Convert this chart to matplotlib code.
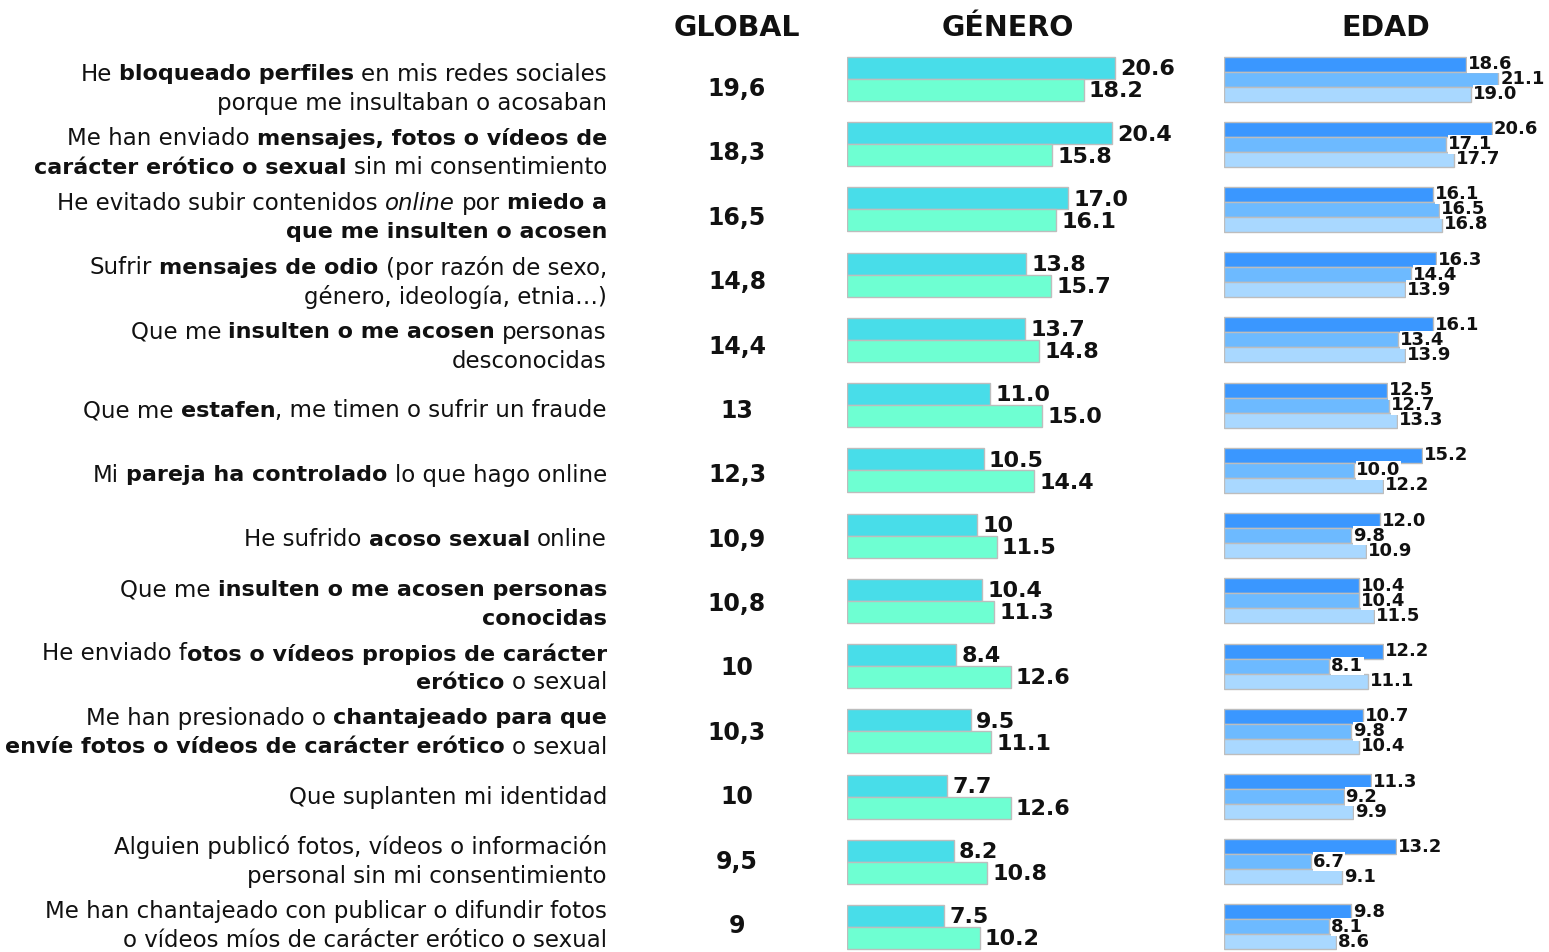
import numpy as np
import matplotlib.pyplot as plt

plt.rcParams['font.family'] = ['DejaVu Sans']

# data
global_vals = ['19,6', '18,3', '16,5', '14,8', '14,4', '13', '12,3',
               '10,9', '10,8', '10', '10,3', '10', '9,5', '9']

gen_a = [20.6, 20.4, 17.0, 13.8, 13.7, 11.0, 10.5, 10.0, 10.4, 8.4, 9.5, 7.7, 8.2, 7.5]
gen_a_lbl = ['20.6', '20.4', '17.0', '13.8', '13.7', '11.0', '10.5', '10', '10.4',
             '8.4', '9.5', '7.7', '8.2', '7.5']
gen_b = [18.2, 15.8, 16.1, 15.7, 14.8, 15.0, 14.4, 11.5, 11.3, 12.6, 11.1, 12.6, 10.8, 10.2]

age_1 = [18.6, 20.6, 16.1, 16.3, 16.1, 12.5, 15.2, 12.0, 10.4, 12.2, 10.7, 11.3, 13.2, 9.8]
age_2 = [21.1, 17.1, 16.5, 14.4, 13.4, 12.7, 10.0, 9.8, 10.4, 8.1, 9.8, 9.2, 6.7, 8.1]
age_3 = [19.0, 17.7, 16.8, 13.9, 13.9, 13.3, 12.2, 10.9, 11.5, 11.1, 10.4, 9.9, 9.1, 8.6]

# row labels: lines of (text, style) with n=normal, b=bold, i=italic
labels = [
    [[('He ', 'n'), ('bloqueado perfiles', 'b'), (' en mis redes sociales', 'n')],
     [('porque me insultaban o acosaban', 'n')]],
    [[('Me han enviado ', 'n'), ('mensajes, fotos o vídeos de', 'b')],
     [('carácter erótico o sexual', 'b'), (' sin mi consentimiento', 'n')]],
    [[('He evitado subir contenidos ', 'n'), ('online', 'i'), (' por ', 'n'), ('miedo a', 'b')],
     [('que me insulten o acosen', 'b')]],
    [[('Sufrir ', 'n'), ('mensajes de odio', 'b'), (' (por razón de sexo,', 'n')],
     [('género, ideología, etnia…)', 'n')]],
    [[('Que me ', 'n'), ('insulten o me acosen', 'b'), (' personas', 'n')],
     [('desconocidas', 'n')]],
    [[('Que me ', 'n'), ('estafen', 'b'), (', me timen o sufrir un fraude', 'n')]],
    [[('Mi ', 'n'), ('pareja ha controlado', 'b'), (' lo que hago online', 'n')]],
    [[('He sufrido ', 'n'), ('acoso sexual', 'b'), (' online', 'n')]],
    [[('Que me ', 'n'), ('insulten o me acosen personas', 'b')],
     [('conocidas', 'b')]],
    [[('He enviado f', 'n'), ('otos o vídeos propios de carácter', 'b')],
     [('erótico', 'b'), (' o sexual', 'n')]],
    [[('Me han presionado o ', 'n'), ('chantajeado para que', 'b')],
     [('envíe fotos o vídeos de carácter erótico', 'b'), (' o sexual', 'n')]],
    [[('Que suplanten mi identidad', 'n')]],
    [[('Alguien publicó fotos, vídeos o información', 'n')],
     [('personal sin mi consentimiento', 'n')]],
    [[('Me han chantajeado con publicar o difundir fotos', 'n')],
     [('o vídeos míos de carácter erótico o sexual', 'n')]],
]

headers = ['GLOBAL', 'GÉNERO', 'EDAD']

c_gen = ['#48DDE9', '#6EFFD2']
c_age = ['#3A97FF', '#6DBAFF', '#A9D8FF']
edge = '#BDBDBD'

W, H = 1549, 952
fig = plt.figure(figsize=(W / 100, H / 100), dpi=100)

n = len(global_vals)
rows = np.arange(n)
# vertical mapping: row 0 centre at 79 px, spacing 65.23 px
pitch = 65.23
y_top = -79 / pitch
y_bot = (H - 79) / pitch
scale = 13.0  # px per unit

ax_g = fig.add_axes([847 / W, 0, (1215 - 847) / W, 1])
ax_g.set_xlim(0, (1215 - 847) / scale)
ax_g.set_ylim(y_bot, y_top)
hg = 22 / pitch
ax_g.barh(rows - hg / 2, gen_a, height=hg, color=c_gen[0], edgecolor=edge, linewidth=1)
ax_g.barh(rows + hg / 2, gen_b, height=hg, color=c_gen[1], edgecolor=edge, linewidth=1)
for i in range(n):
    ax_g.text(gen_a[i] + 0.4, i - hg / 2 + 0.02, gen_a_lbl[i], fontsize=16, fontweight='bold',
              va='center', ha='left', color='#111111')
    ax_g.text(gen_b[i] + 0.4, i + hg / 2 + 0.02, f'{gen_b[i]:.1f}', fontsize=16, fontweight='bold',
              va='center', ha='left', color='#111111')
ax_g.axis('off')

ax_a = fig.add_axes([1224 / W, 0, (W - 1224) / W, 1])
ax_a.set_xlim(0, (W - 1224) / scale)
ax_a.set_ylim(y_bot, y_top)
ha_ = 15 / pitch
for k, (vals, col) in enumerate(zip([age_1, age_2, age_3], c_age)):
    off = (k - 1) * ha_
    ax_a.barh(rows + off, vals, height=ha_, color=col, edgecolor=edge, linewidth=1)
for k, vals in enumerate([age_1, age_2, age_3]):
    off = (k - 1) * ha_
    for i in range(n):
        ax_a.text(vals[i] + 0.15, i + off, f'{vals[i]:.1f}', fontsize=13, fontweight='bold',
                  va='center', ha='left', color='#111111', zorder=5,
                  bbox=dict(facecolor='white', edgecolor='none', pad=0.2))
ax_a.axis('off')

# text layer in pixel coordinates
ax_t = fig.add_axes([0, 0, 1, 1], zorder=-1)
ax_t.set_xlim(0, W)
ax_t.set_ylim(H, 0)
ax_t.axis('off')

hx = [737, 1008, 1386]
for x, h in zip(hx, headers):
    ax_t.text(x, 28, h, fontsize=20.5, fontweight='bold', ha='center', va='center', color='#111111')

txt_y0, txt_pitch = 89, 64.38
for i, g in enumerate(global_vals):
    ax_t.text(737, txt_y0 + i * txt_pitch, g, fontsize=17, fontweight='bold',
              ha='center', va='center', color='#111111')

renderer = fig.canvas.get_renderer()
styles = {'n': dict(fontweight='normal', fontstyle='normal', fontsize=16.5),
          'b': dict(fontweight='bold', fontstyle='normal', fontsize=16.0),
          'i': dict(fontweight='normal', fontstyle='italic', fontsize=16.5)}


def text_width(s, st):
    t = ax_t.text(0, 0, s, **styles[st])
    w = t.get_window_extent(renderer).width
    t.remove()
    return w


space_w = text_width('a a', 'n') - text_width('aa', 'n')
x_right = 607
line_gap = 29
for i, lines in enumerate(labels):
    yc = txt_y0 + i * txt_pitch
    nl = len(lines)
    for j, segs in enumerate(lines):
        y = yc + (j - (nl - 1) / 2) * line_gap
        parts = []
        for s, st in segs:
            lead = len(s) - len(s.lstrip(' '))
            trail = len(s) - len(s.rstrip(' '))
            core = s.strip(' ')
            parts.append((lead * space_w, core, st, text_width(core, st), trail * space_w))
        total = sum(p[0] + p[3] + p[4] for p in parts)
        x = x_right - total
        for lead, core, st, w, trail in parts:
            x += lead
            ax_t.text(x, y, core, ha='left', va='center', color='#111111', **styles[st])
            x += w + trail

fig.savefig('out.png', dpi=100)
